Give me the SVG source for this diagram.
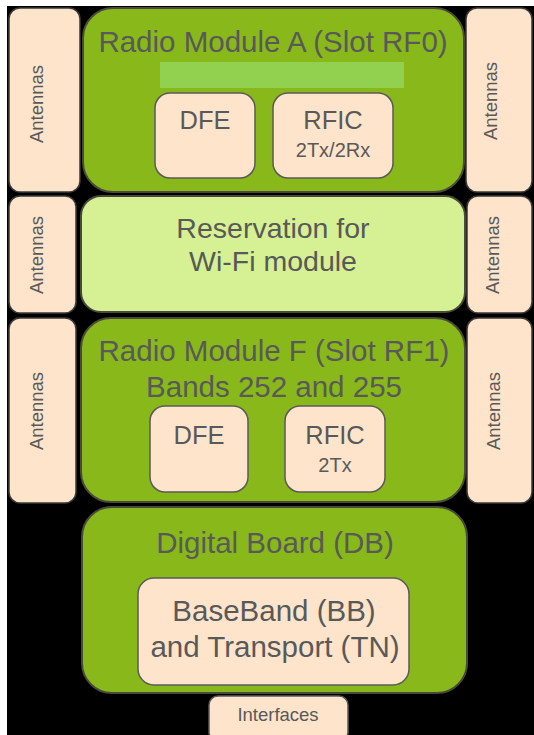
<svg xmlns="http://www.w3.org/2000/svg" width="534" height="735" viewBox="0 0 534 735">
<style>
text{font-family:"Liberation Sans",Arial,sans-serif;fill:#595959;text-anchor:middle}
.ant{fill:#fde4cb;stroke:#3a3a3a;stroke-width:1.5}
.mod{fill:#88b81a;stroke:#4a4a3a;stroke-width:2}
.res{fill:#d6f094;stroke:#4a4a3a;stroke-width:2}
.box{fill:#fde4cb;stroke:#5a5a5a;stroke-width:1.5}
.t29{font-size:29.5px}
.t28{font-size:28.5px}
.t25{font-size:25.5px}
.t20{font-size:20px}
.ta{font-size:18.5px}
</style>
<rect x="0" y="0" width="534" height="735" fill="#ffffff"/>
<rect x="7" y="6" width="527" height="729" fill="#000000"/>

<g id="ant-l1"><rect class="ant" x="9" y="8" width="71" height="184" rx="11"/><text class="ta" transform="translate(43,104) rotate(-90)">Antennas</text></g>
<g id="ant-l2"><rect class="ant" x="9" y="196" width="67" height="117" rx="11"/><text class="ta" transform="translate(43,255) rotate(-90)">Antennas</text></g>
<g id="ant-l3"><rect class="ant" x="9" y="318" width="67" height="185" rx="11"/><text class="ta" transform="translate(43,411) rotate(-90)">Antennas</text></g>
<g id="ant-r1"><rect class="ant" x="466" y="8" width="66" height="184" rx="11"/><text class="ta" transform="translate(497,101) rotate(-90)">Antennas</text></g>
<g id="ant-r2"><rect class="ant" x="467" y="196" width="65" height="117" rx="11"/><text class="ta" transform="translate(499,255) rotate(-90)">Antennas</text></g>
<g id="ant-r3"><rect class="ant" x="467" y="318" width="65" height="185" rx="11"/><text class="ta" transform="translate(500,411) rotate(-90)">Antennas</text></g>

<g id="module-a">
<rect class="mod" x="83" y="8" width="381" height="184" rx="30"/>
<text class="t29" x="273" y="52">Radio Module A (Slot RF0)</text>
<rect x="160" y="62" width="244" height="26" fill="#92d050"/>
</g>
<g id="dfe-a"><rect class="box" x="155" y="93" width="100" height="85" rx="15"/><text class="t25" x="205" y="129">DFE</text></g>
<g id="rfic-a"><rect class="box" x="273" y="93" width="120" height="85" rx="15"/><text class="t25" x="333" y="129">RFIC</text><text class="t20" x="333" y="157">2Tx/2Rx</text></g>

<g id="wifi"><rect class="res" x="81" y="196" width="384" height="116" rx="20"/><text class="t28" x="273" y="238">Reservation for</text><text class="t28" x="273" y="271">Wi-Fi module</text></g>

<g id="module-f">
<rect class="mod" x="81" y="318" width="384" height="184" rx="30"/>
<text class="t29" x="274" y="361">Radio Module F (Slot RF1)</text>
<text class="t29" x="274" y="397">Bands 252 and 255</text>
</g>
<g id="dfe-f"><rect class="box" x="150" y="406" width="98" height="86" rx="15"/><text class="t25" x="199" y="444">DFE</text></g>
<g id="rfic-f"><rect class="box" x="285" y="406" width="100" height="86" rx="15"/><text class="t25" x="335" y="444">RFIC</text><text class="t20" x="335" y="472">2Tx</text></g>

<g id="digital-board">
<rect class="mod" x="82" y="507" width="385" height="186" rx="30"/>
<text class="t29" x="275" y="553">Digital Board (DB)</text>
</g>
<g id="bb-tn"><rect class="box" x="138" y="578" width="271" height="107" rx="16"/><text class="t29" x="274" y="621">BaseBand (BB)</text><text class="t29" x="275" y="657">and Transport (TN)</text></g>

<g id="interfaces"><rect class="box" x="209" y="696" width="139" height="45" rx="9"/><text style="font-size:18.5px" x="278" y="721">Interfaces</text></g>

<g id="connectors"></g>
</svg>
